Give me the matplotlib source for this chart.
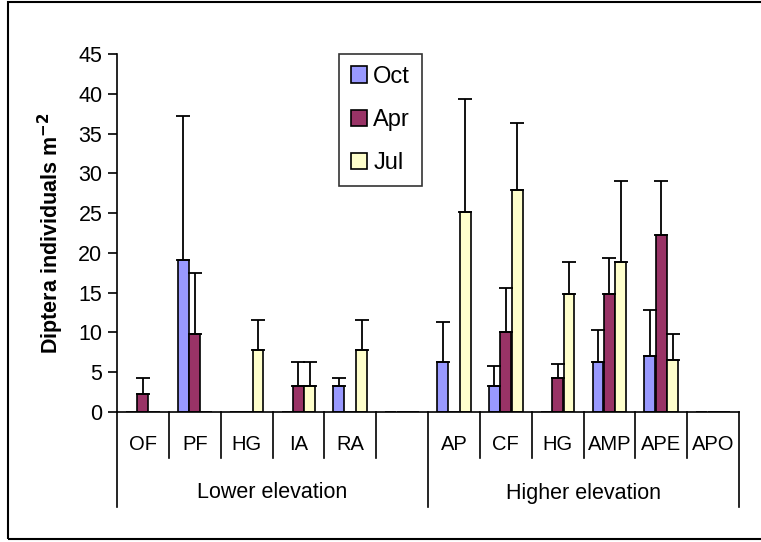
import numpy as np
import matplotlib.pyplot as plt
from matplotlib.patches import Rectangle
from matplotlib.lines import Line2D
import matplotlib.transforms as mtransforms

plt.rcParams["font.family"] = ["Liberation Sans", "DejaVu Sans"]

nan = np.nan

sites = ["OF", "PF", "HG", "IA", "RA", "", "AP", "CF", "HG", "AMP", "APE", "APO"]
groups = ["Lower elevation", "Higher elevation"]
months = ["Oct", "Apr", "Jul"]
colors = ["#9999FF", "#993366", "#FFFFCC"]

# means per site (nan = no bar)
oct_mean = [nan, 19.1, nan, nan, 3.2, nan, 6.3, 3.2, nan, 6.3, 7.0, nan]
apr_mean = [2.2, 9.8, nan, 3.2, nan, nan, nan, 10.0, 4.2, 14.8, 22.3, nan]
jul_mean = [nan, nan, 7.8, 3.2, 7.8, nan, 25.1, 27.9, 14.8, 18.8, 6.5, nan]

# upper error (standard error)
oct_err = [nan, 18.1, nan, nan, 1.0, nan, 5.0, 2.5, nan, 3.95, 5.8, nan]
apr_err = [2.0, 7.7, nan, 3.1, nan, nan, nan, 5.6, 1.8, 4.5, 6.8, nan]
jul_err = [nan, nan, 3.7, 3.1, 3.7, nan, 14.3, 8.5, 4.0, 10.3, 3.3, nan]

means = [oct_mean, apr_mean, jul_mean]
errs = [oct_err, apr_err, jul_err]

W, H = 761, 542
fig = plt.figure(figsize=(W / 100, H / 100), dpi=100)

ax_left, ax_right = 117, 739
ax_top, ax_bot = 54.3, 411.7
ax = fig.add_axes([ax_left / W, 1 - ax_bot / H,
                   (ax_right - ax_left) / W, (ax_bot - ax_top) / H])

x = np.arange(len(sites)) + 0.5
width = 0.21
offsets = [-0.22, 0.0, 0.22]

for vals, err, off, col, lab in zip(means, errs, offsets, colors, months):
    vals = np.array(vals, dtype=float)
    err = np.array(err, dtype=float)
    ax.bar(x + off, np.nan_to_num(vals), width, color=col,
           edgecolor="black", linewidth=1.2, label=lab, zorder=2)
    ok = ~np.isnan(vals)
    ax.errorbar(x[ok] + off, vals[ok],
                yerr=[np.zeros(ok.sum()), err[ok]],
                fmt="none", ecolor="black", elinewidth=1.3,
                capsize=4.8, capthick=1.3, zorder=3)

ax.set_xlim(0, len(sites))
ax.set_ylim(0, 45)
ax.set_yticks(np.arange(0, 46, 5))
ax.tick_params(axis="y", direction="out", length=6.5, width=1.2,
               labelsize=15.5, pad=4)
ax.set_xticks([])
for s in ["top", "right"]:
    ax.spines[s].set_visible(False)
ax.spines["left"].set_linewidth(1.2)
ax.spines["bottom"].set_linewidth(1.2)
ax.spines["left"].set_zorder(4)

ax.set_ylabel("Diptera individuals m$^{\\mathbf{-2}}$", fontsize=15.5,
              fontweight="bold", labelpad=9)

# two-level category axis below the bars
trans = mtransforms.blended_transform_factory(ax.transData, ax.transAxes)
ax_h = ax_bot - ax_top


def ay(py):
    return (ax_bot - py) / ax_h


short_end = ay(458)
long_end = ay(506.7)
for b in range(len(sites) + 1):
    end = long_end if b in (0, 6, 12) else short_end
    ax.add_line(Line2D([b, b], [0, end], transform=trans, color="black",
                       linewidth=1.2, clip_on=False))

for xi, s in zip(x, sites):
    ax.text(xi, ay(444), s, transform=trans, ha="center", va="center",
            fontsize=14.5)

for gx, g in zip([3, 9], groups):
    ax.text(gx, ay(493), g, transform=trans, ha="center", va="center",
            fontsize=15.5)

leg = fig.legend(loc="upper left", bbox_to_anchor=(339 / W, 1 - 54 / H),
                 fontsize=17, frameon=True, fancybox=False,
                 handlelength=0.7, handleheight=0.7, handletextpad=0.25,
                 labelspacing=0.9, borderpad=0.5, borderaxespad=0)
leg.get_frame().set_edgecolor("black")
leg.get_frame().set_linewidth(1.2)

# outer chart border
fig.add_artist(Rectangle((8 / W, 1 - 539 / H), 1.0, (539 - 1.5) / H,
                         transform=fig.transFigure, fill=False,
                         edgecolor="black", linewidth=1.5))

fig.savefig("out.png", dpi=100)
